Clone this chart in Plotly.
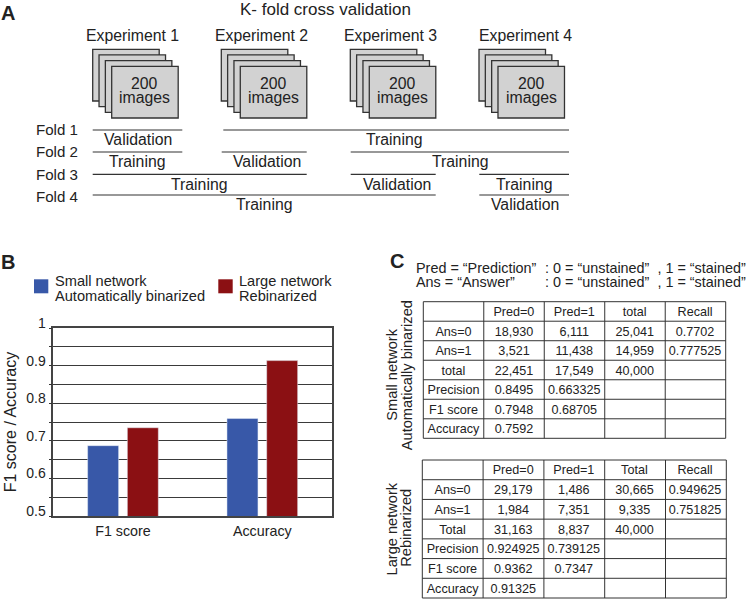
import plotly.graph_objects as go

W, H = 747, 599
FONT = "Liberation Sans"
INK = "#222222"

# bar chart data
metrics = ["F1 score", "Accuracy"]
small_network = [0.68705, 0.7592]
large_network = [0.7347, 0.91325]
y_ticks = [0.5, 0.55, 0.6, 0.65, 0.7, 0.75, 0.8, 0.85, 0.9, 0.95, 1]
y_labels = ["0.5", "", "0.6", "", "0.7", "", "0.8", "", "0.9", "", "1"]

# table data, by column
top_col0 = ["Ans=0", "Ans=1", "total", "Precision", "F1\u00a0score", "Accuracy"]
top_col1 = ["18,930", "3,521", "22,451", "0.8495", "0.7948", "0.7592"]
top_col2 = ["6,111", "11,438", "17,549", "0.663325", "0.68705", ""]
top_col3 = ["25,041", "14,959", "40,000", "", "", ""]
top_col4 = ["0.7702", "0.777525", "", "", "", ""]
top_header = ["", "Pred=0", "Pred=1", "total", "Recall"]

low_col0 = ["Ans=0", "Ans=1", "Total", "Precision", "F1\u00a0score", "Accuracy"]
low_col1 = ["29,179", "1,984", "31,163", "0.924925", "0.9362", "0.91325"]
low_col2 = ["1,486", "7,351", "8,837", "0.739125", "0.7347", ""]
low_col3 = ["30,665", "9,335", "40,000", "", "", ""]
low_col4 = ["0.949625", "0.751825", "", "", "", ""]
low_header = ["", "Pred=0", "Pred=1", "Total", "Recall"]

# k-fold diagram
experiments = ["Experiment 1", "Experiment 2", "Experiment 3", "Experiment 4"]
fold_names = ["Fold 1", "Fold 2", "Fold 3", "Fold 4"]


def px(x):
    return x / W


def py(y):
    return 1 - y / H


def text(s, x, y, size, anchor="center", angle=0, bold=False):
    fig.add_annotation(
        x=px(x), y=py(y), xref="paper", yref="paper", text=f"<b>{s}</b>" if bold else s,
        showarrow=False, xanchor=anchor, yanchor="middle", textangle=angle,
        font=dict(family=FONT, size=size, color=INK), borderpad=0,
    )


def rect(x0, y0, x1, y1, fill, line="#333333", width=1.3):
    fig.add_shape(
        type="rect", xref="paper", yref="paper",
        x0=px(x0), x1=px(x1), y0=py(y0), y1=py(y1),
        fillcolor=fill, line=dict(color=line, width=width),
    )


def line(x0, y0, x1, y1, width=1.2):
    fig.add_shape(
        type="line", xref="paper", yref="paper",
        x0=px(x0), x1=px(x1), y0=py(y0), y1=py(y1),
        line=dict(color="#333333", width=width),
    )


def table(header, cols, x0, x1, y0, y1):
    # plotly sits cell text low, so the text layer goes up 3px and the grid is drawn separately
    rows = len(cols[0]) + 1
    row_h = (y1 - y0) / rows
    for r in range(rows + 1):
        line(x0, y0 + r * row_h, x1, y0 + r * row_h, width=1)
    for c in range(len(cols) + 1):
        x = x0 + c * (x1 - x0) / len(cols)
        line(x, y0, x, y1, width=1)
    style = dict(
        height=row_h, align="center", fill_color="rgba(0,0,0,0)",
        line=dict(color="rgba(0,0,0,0)", width=0),
        font=dict(family=FONT, size=12.6, color=INK),
    )
    fig.add_trace(go.Table(
        domain=dict(x=[px(x0), px(x1)], y=[py(y1 - 2), py(y0 - 3)]),
        columnwidth=[1] * len(cols),
        header=dict(values=header, **style),
        cells=dict(values=cols, **style),
    ))


fig = go.Figure()

fig.add_trace(go.Bar(x=metrics, y=small_network, name="Small network", marker_color="#3858a8"))
fig.add_trace(go.Bar(x=metrics, y=large_network, name="Large network", marker_color="#8b1013"))

table(top_header, [top_col0, top_col1, top_col2, top_col3, top_col4], 423.3, 725.7, 301.7, 438.3)
table(low_header, [low_col0, low_col1, low_col2, low_col3, low_col4], 422.3, 726.3, 460, 598)

fig.update_layout(
    width=W, height=H, margin=dict(l=0, r=0, t=0, b=0),
    paper_bgcolor="white", plot_bgcolor="white",
    showlegend=False, barmode="group", bargap=0.43, bargroupgap=0.22,
    font=dict(family=FONT, color=INK),
)
fig.update_xaxes(
    domain=[px(53.3), px(332)], showgrid=False, ticks="", automargin=False,
    showline=True, linecolor="#444444", linewidth=1.5, mirror=True,
    tickfont=dict(family=FONT, size=14.3, color=INK), ticklabelstandoff=1,
)
fig.update_yaxes(
    domain=[py(516), py(328)], range=[0.5, 1], automargin=False,
    tickmode="array", tickvals=y_ticks, ticktext=y_labels,
    ticks="outside", ticklen=3, tickcolor="#333333",
    showgrid=True, gridcolor="#3a3a3a", gridwidth=1, zeroline=False,
    showline=True, linecolor="#444444", linewidth=1.5, mirror=True,
    tickfont=dict(family=FONT, size=14, color=INK), ticklabelshift=-5,
    title=dict(text="F1 score / Accuracy", font=dict(family=FONT, size=16, color=INK), standoff=6),
)

# panel A
text("K- fold cross validation", 325.5, 9.5, 17)
stack_lefts = [92.7, 221.3, 350.3, 479]
label_centers = [132.5, 261.8, 390.3, 525.7]
for name, left, center in zip(experiments, stack_lefts, label_centers):
    text(name, center, 35.7, 15.8)
    for i in range(4):
        rect(left + i * 6.33, 49.3 + i * 5.67, left + i * 6.33 + 66.5, 49.3 + i * 5.67 + 51.7, "#d2d2d2")
    text("200", left + 52, 83.3, 15.8)
    text("images", left + 52, 97.3, 15.8)

for name, y in zip(fold_names, [129.3, 151.3, 174.2, 196.3]):
    text(name, 34.5, y, 15.1, anchor="left")

for x0, x1, y in [
    (92.7, 182.3, 130), (223.3, 569, 130),
    (92.7, 182.3, 152), (221.7, 306.7, 152), (350.7, 569, 152),
    (92.7, 306.7, 174.3), (350.7, 435.7, 174.3), (479.3, 569, 174.3),
    (92.7, 435.7, 195), (479.3, 569, 195),
]:
    line(x0, y, x1, y)

for s, x, y in [
    ("Validation", 138.3, 139.5), ("Training", 394.7, 139.5),
    ("Training", 137.7, 161.7), ("Validation", 267.2, 161.7), ("Training", 460, 161.7),
    ("Training", 199.8, 184), ("Validation", 396.5, 184), ("Training", 524.2, 184),
    ("Training", 264.3, 204.3), ("Validation", 525, 204.3),
]:
    text(s, x, y, 15.8)

# panel letters
text("A", 0, 12.5, 20, anchor="left", bold=True)
text("B", 0, 262.2, 20, anchor="left", bold=True)
text("C", 389, 261.2, 20, anchor="left", bold=True)

# panel B legend
rect(34, 279.3, 48.3, 293.3, "#3858a8", line="#3858a8", width=0)
rect(218.3, 279.3, 232.7, 293.3, "#8b1013", line="#8b1013", width=0)
text("Small network", 53.5, 281.3, 14.6, anchor="left")
text("Automatically binarized", 53.5, 295.7, 14.6, anchor="left")
text("Large network", 238, 281.3, 14.6, anchor="left")
text("Rebinarized", 238, 295.7, 14.6, anchor="left")

# panel C headings
text("Pred = “Prediction”", 414.5, 267.7, 14.4, anchor="left")
text(": 0 = “unstained”  , 1 = “stained”", 543.5, 267.7, 14.4, anchor="left")
text("Ans = “Answer”", 414.5, 282.3, 14.4, anchor="left")
text(": 0 = “unstained”  , 1 = “stained”", 543.5, 282.3, 14.4, anchor="left")
text("Small network", 391.7, 375, 14.6, angle=-90)
text("Automatically binarized", 406.7, 375.5, 14.6, angle=-90)
text("Large network", 391.7, 528.7, 14.6, angle=-90)
text("Rebinarized", 405.7, 528, 14.6, angle=-90)

fig.write_html("out.html", config=dict(displayModeBar=False),
               post_script="document.body.style.margin='0';document.body.style.overflow='hidden';")
